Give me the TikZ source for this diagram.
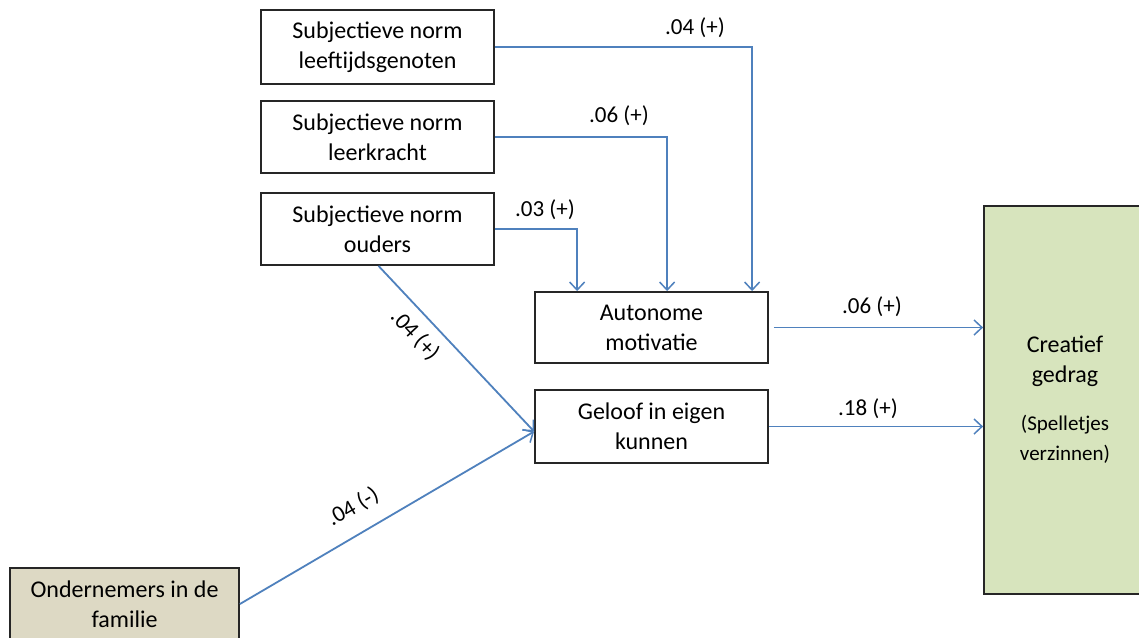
\documentclass[tikz,border=0pt]{standalone}
\usepackage{fontspec}
\setmainfont{Carlito}
\usetikzlibrary{arrows.meta}
\definecolor{arrowblue}{RGB}{79,129,189}
\definecolor{boxgreen}{RGB}{215,228,189}
\definecolor{boxtan}{RGB}{221,217,196}
\tikzset{
  box/.style={draw=black!85, line width=1.8pt, rectangle, align=center,
    font=\fontsize{24}{30}\selectfont, inner sep=0pt},
  arr/.style={draw=arrowblue, line width=1.8pt,
    -{Straight Barb[length=8pt,width=15pt,line width=1.5pt]}},
  lbl/.style={font=\fontsize{23}{25}\selectfont, inner sep=0pt}
}
\begin{document}
\begin{tikzpicture}[x=1pt,y=-1pt]
\useasboundingbox (0,0) rectangle (1139,637);
\fill[white] (0,0) rectangle (1139,637);
\node[box, minimum width=233pt, minimum height=74pt] (peer) at (377.5,47) {Subjectieve norm\\leeftijdsgenoten};
\node[box, minimum width=233pt, minimum height=72pt] (teach) at (377.5,137) {Subjectieve norm\\leerkracht};
\node[box, minimum width=233pt, minimum height=72pt] (par) at (377.5,229) {Subjectieve norm\\ouders};
\node[box, minimum width=233pt, minimum height=71pt] (auto) at (651.5,327.5) {Autonome\\motivatie};
\node[box, minimum width=233pt, minimum height=73pt] (gel) at (651.5,426.5) {Geloof in eigen\\kunnen};
\node[box, fill=boxtan, minimum width=229pt, minimum height=72pt] (fam) at (124.5,604) {Ondernemers in de\\familie};
\node[box, fill=boxgreen, minimum width=162pt, minimum height=388pt] (cre) at (1065,400) {Creatief\\gedrag\\[18pt]{\fontsize{21}{25}\selectfont (Spelletjes}\\{\fontsize{21}{25}\selectfont verzinnen)}};

\coordinate (gin) at ([yshift=-5pt]gel.west);
\draw[arr] (peer.east) -| ([xshift=218pt]auto.north west);
\draw[arr] (teach.east) -| ([xshift=133pt]auto.north west);
\draw[arr] (par.east) -| ([xshift=43pt]auto.north west);
\draw[arr] ([xshift=1pt]par.south) -- (gin);
\draw[arr] (fam.east) -- (gin);
\draw[arr] ([xshift=5pt]auto.east) -- (auto.east -| cre.west);
\draw[arr] (gel.east) -- (gel.east -| cre.west);

\node[lbl] (l1) at (695,28) {.04 (+)};
\node[lbl] (l2) at (619,116) {.06 (+)};
\node[lbl] (l3) at (545,210) {.03 (+)};
\node[lbl, rotate=-47] (l4) at (415,335) {.04 (+)};
\node[lbl, rotate=30] (l5) at (353,507) {.04 (-)};
\node[lbl] (l6) at (872,307) {.06 (+)};
\node[lbl] (l7) at (868,409) {.18 (+)};
\end{tikzpicture}
\end{document}
